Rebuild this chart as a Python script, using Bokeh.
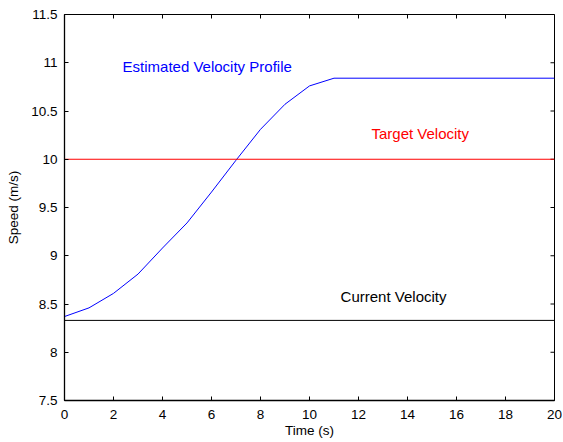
import math
from bokeh.plotting import figure
from bokeh.models import Range1d, FixedTicker, Label
from bokeh.embed import file_html
from bokeh.resources import INLINE

# ---- data ----
time_s = [0, 1, 2, 3, 4, 5, 6, 7, 8, 9, 10, 11, 20]
est_speed = [8.37, 8.46, 8.61, 8.81, 9.08, 9.34, 9.66, 9.99, 10.31, 10.57, 10.76, 10.84, 10.84]
target_speed = 10.0
current_speed = 8.33
x_ticks = [0, 2, 4, 6, 8, 10, 12, 14, 16, 18, 20]
y_ticks = [7.5, 8, 8.5, 9, 9.5, 10, 10.5, 11, 11.5]
y_tick_labels = ["7.5", "8", "8.5", "9", "9.5", "10", "10.5", "11", "11.5"]
x_limits = (0, 20)
y_limits = (7.5, 11.5)

FONT = "Liberation Sans"

p = figure(width=562, height=441, output_backend="svg", toolbar_location=None,
           x_range=Range1d(*x_limits), y_range=Range1d(*y_limits),
           min_border_left=64, min_border_right=8, min_border_top=14, min_border_bottom=41,
           x_axis_label="Time (s)", y_axis_label="Speed (m/s)")
p.xgrid.visible = False
p.ygrid.visible = False
p.outline_line_color = "black"
p.outline_line_alpha = 1.0
p.outline_line_width = 1
p.background_fill_color = "white"
p.border_fill_color = "white"

xt = FixedTicker(ticks=x_ticks)
yt = FixedTicker(ticks=y_ticks)
overrides = {float(v): s for v, s in zip(y_ticks, y_tick_labels)}

for ax in p.xaxis:
    ax.ticker = xt
    ax.major_label_standoff = 9
    ax.axis_label_standoff = 1
for ax in p.yaxis:
    ax.ticker = yt
    ax.major_label_overrides = overrides
    ax.major_label_standoff = 7
    ax.axis_label_standoff = 7

for ax in list(p.xaxis) + list(p.yaxis):
    ax.major_tick_in = 4
    ax.major_tick_out = 0
    ax.minor_tick_line_color = None
    ax.axis_line_color = "black"
    ax.axis_line_width = 1.3
    ax.major_tick_line_color = "black"
    ax.major_label_text_font = FONT
    ax.major_label_text_font_size = "13.5px"
    ax.major_label_text_color = "black"
    ax.axis_label_text_font = FONT
    ax.axis_label_text_font_size = "13.5px"
    ax.axis_label_text_font_style = "normal"
    ax.axis_label_text_color = "black"

# box ticks on top / right edges (half of each dash is clipped by the frame)
p.scatter(x_ticks, [y_limits[1]] * len(x_ticks), marker="dash", size=8,
          angle=math.pi / 2, line_color="black", line_width=1)
p.scatter([x_limits[1]] * len(y_ticks), y_ticks, marker="dash", size=8,
          line_color="black", line_width=1)

p.line(time_s, est_speed, line_color="#0000ff", line_width=1)
p.line(list(x_limits), [target_speed, target_speed], line_color="#ff0000", line_width=1)
p.line(list(x_limits), [current_speed, current_speed], line_color="black", line_width=1)

p.add_layout(Label(x=2.37, y=10.96, text="Estimated Velocity Profile", text_color="#0000ff",
                   text_font=FONT, text_font_size="15px", text_baseline="middle"))
p.add_layout(Label(x=12.53, y=10.27, text="Target Velocity", text_color="#ff0000",
                   text_font=FONT, text_font_size="15px", text_baseline="middle"))
p.add_layout(Label(x=11.27, y=8.58, text="Current Velocity", text_color="black",
                   text_font=FONT, text_font_size="15px", text_baseline="middle"))

open("out.html", "w").write(file_html(p, INLINE))
